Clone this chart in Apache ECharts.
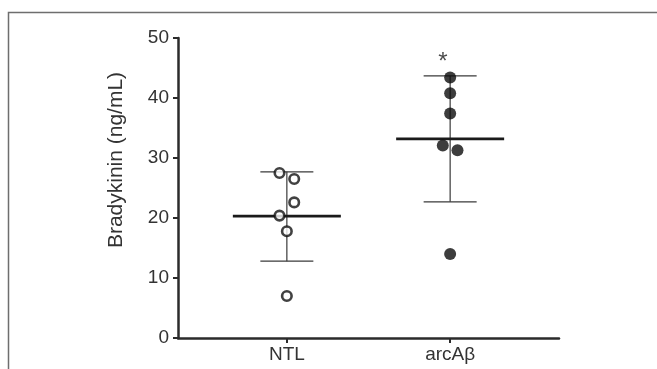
<!DOCTYPE html>
<html>
<head>
<meta charset="utf-8">
<script src="https://cdn.jsdelivr.net/npm/echarts@6/dist/echarts.min.js"></script>
<style>
  html, body { margin: 0; padding: 0; background: #fff; }
  #chart { width: 657px; height: 369px; }
</style>
</head>
<body>
<div id="chart"></div>
<script>
  // groups
  const groups = ['NTL', 'arcAβ'];
  const groupPos = [1, 2];

  // individual values
  const ntlValues = [27.5, 26.5, 22.6, 20.4, 17.8, 7.0];
  const ntlJitter = [-0.045, 0.045, 0.045, -0.045, 0, 0];
  const arcValues = [43.4, 40.8, 37.4, 32.1, 31.3, 14.0];
  const arcJitter = [0, 0, 0, -0.045, 0.045, 0];

  // mean +/- SD
  const means = [20.3, 33.2];
  const sdHigh = [27.7, 43.7];
  const sdLow = [12.8, 22.7];

  const yTicks = [0, 10, 20, 30, 40, 50];
  const starValue = 46.0;

  const font = 'Liberation Sans, Arial, sans-serif';
  const ink = '#2b2b2b';

  const chart = echarts.init(document.getElementById('chart'), null, { renderer: 'canvas' });

  const ntlData = ntlValues.map((v, i) => [groupPos[0] + ntlJitter[i], v]);
  const arcData = arcValues.map((v, i) => [groupPos[1] + arcJitter[i], v]);
  const statData = groupPos.map((p, i) => [p, means[i], sdLow[i], sdHigh[i]]);

  chart.setOption({
    animation: false,
    backgroundColor: '#fff',
    grid: { left: 178, right: 98, top: 38, bottom: 31, containLabel: false },
    graphic: [
      {
        type: 'polyline',
        shape: { points: [[8.5, 369], [8.5, 12.5], [657, 12.5]] },
        style: { stroke: '#6e6e6e', lineWidth: 1.5, fill: null }
      },
      {
        type: 'text',
        rotation: Math.PI / 2,
        x: 116, y: 160,
        style: {
          text: 'Bradykinin (ng/mL)',
          font: '21px ' + font,
          fill: '#333',
          align: 'center',
          verticalAlign: 'middle'
        }
      }
    ],
    xAxis: {
      type: 'value',
      min: 1 / 3,
      max: 8 / 3,
      splitLine: { show: false },
      axisLine: { lineStyle: { color: ink, width: 2.5 } },
      axisTick: { customValues: groupPos, length: 5, lineStyle: { color: ink, width: 2 } },
      axisLabel: {
        customValues: groupPos,
        formatter: v => groups[groupPos.indexOf(Math.round(v))] || '',
        color: '#333',
        fontSize: 19,
        fontFamily: font,
        margin: 7
      }
    },
    yAxis: {
      type: 'value',
      min: 0,
      max: 50,
      interval: 10,
      splitLine: { show: false },
      axisLine: { show: true, lineStyle: { color: ink, width: 2.5 } },
      axisTick: { show: true, length: 5, lineStyle: { color: ink, width: 2 } },
      axisLabel: {
        formatter: v => (yTicks.indexOf(v) >= 0 ? String(v) : ''),
        color: '#333',
        fontSize: 19,
        fontFamily: font,
        margin: 9
      }
    },
    series: [
      {
        type: 'custom',
        name: 'mean_sd',
        data: statData,
        z: 1,
        renderItem: (params, api) => {
          const x = api.value(0);
          const c = api.coord([x, api.value(1)]);
          const lo = api.coord([x, api.value(2)]);
          const hi = api.coord([x, api.value(3)]);
          const cap = 26.5, half = 54;
          return {
            type: 'group',
            children: [
              { type: 'line', shape: { x1: hi[0], y1: hi[1], x2: lo[0], y2: lo[1] }, style: { stroke: '#3a3a3a', lineWidth: 1.2 } },
              { type: 'line', shape: { x1: hi[0] - cap, y1: hi[1], x2: hi[0] + cap, y2: hi[1] }, style: { stroke: '#3a3a3a', lineWidth: 1.2 } },
              { type: 'line', shape: { x1: lo[0] - cap, y1: lo[1], x2: lo[0] + cap, y2: lo[1] }, style: { stroke: '#3a3a3a', lineWidth: 1.2 } },
              { type: 'line', shape: { x1: c[0] - half, y1: c[1], x2: c[0] + half, y2: c[1] }, style: { stroke: '#1a1a1a', lineWidth: 2.8 } }
            ]
          };
        }
      },
      {
        type: 'scatter',
        name: 'NTL',
        data: ntlData,
        z: 3,
        symbol: 'circle',
        symbolSize: 9.5,
        itemStyle: { color: '#fff', borderColor: '#111', borderWidth: 2.6 }
      },
      {
        type: 'scatter',
        name: 'arcAβ',
        data: arcData,
        z: 3,
        symbol: 'circle',
        symbolSize: 12,
        itemStyle: { color: '#0d0d0d', borderWidth: 0 }
      },
      {
        type: 'scatter',
        name: 'sig',
        data: [[groupPos[1] - 0.045, starValue]],
        symbolSize: 0,
        silent: true,
        label: {
          show: true,
          position: 'inside',
          formatter: '*',
          color: '#1a1a1a',
          fontSize: 24,
          fontFamily: font
        }
      }
    ]
  });
</script>
</body>
</html>
